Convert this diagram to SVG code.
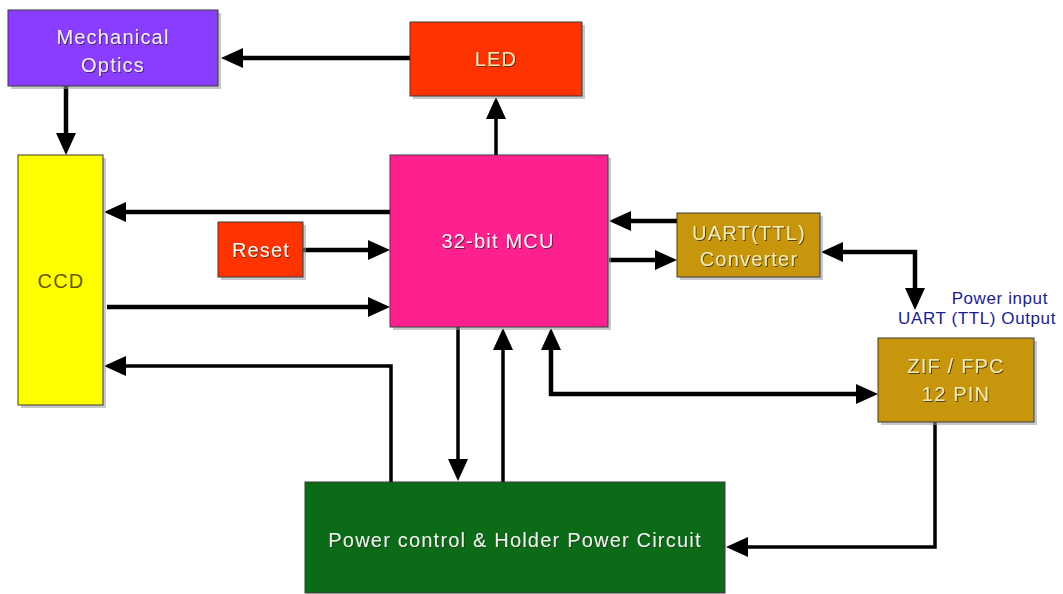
<svg xmlns="http://www.w3.org/2000/svg" width="1063" height="594" viewBox="0 0 1063 594">
<style>
.box{stroke:#3a3a3a;stroke-width:1}
.shadow{fill:#9a9a9a;opacity:0.55}
.lbl{font-family:"Liberation Sans",Arial,sans-serif;font-size:20px;letter-spacing:1.2px;text-anchor:middle;filter:url(#ts)}
.blue{font-family:"Liberation Sans",Arial,sans-serif;font-size:17px;fill:#1c1c8a;text-anchor:end;letter-spacing:0.6px}
.c{fill:none;stroke:#000;stroke-width:4.5}
.t{fill:none;stroke:#000;stroke-width:3.5}
</style>
<defs>
<marker id="ah" viewBox="0 0 22 20" markerWidth="22" markerHeight="20" markerUnits="userSpaceOnUse" refX="2" refY="10" orient="auto-start-reverse">
<path d="M0,0 L22,10 L0,20 z" fill="#000"/>
</marker>
<filter id="ts" x="-10%" y="-30%" width="120%" height="160%">
<feDropShadow dx="1" dy="1" stdDeviation="0.3" flood-color="#2a2a2a" flood-opacity="0.8"/>
</filter>
</defs>
<rect width="1063" height="594" fill="#ffffff"/>

<g id="connectors">
<path class="c" d="M410,58 H241" marker-end="url(#ah)"/>
<path class="c" d="M66,86 V135" marker-end="url(#ah)"/>
<path class="t" d="M496,155 V117" marker-end="url(#ah)"/>
<path class="c" d="M390,212 H124" marker-end="url(#ah)"/>
<path class="c" d="M303,250 H370" marker-end="url(#ah)"/>
<path class="c" d="M107,307 H370" marker-end="url(#ah)"/>
<path class="t" d="M391,482 V366 H124" marker-end="url(#ah)"/>
<path class="c" d="M677,221 H629" marker-end="url(#ah)"/>
<path class="c" d="M609,260 H657" marker-end="url(#ah)"/>
<path class="c" d="M841,252 H915 V290" marker-start="url(#ah)" marker-end="url(#ah)"/>
<path class="c" d="M551,348 V394 H858" marker-start="url(#ah)" marker-end="url(#ah)"/>
<path class="t" d="M458,327 V461" marker-end="url(#ah)"/>
<path class="t" d="M503,482 V348" marker-end="url(#ah)"/>
<path class="t" d="M935,422 V547 H746" marker-end="url(#ah)"/>
</g>

<g id="optics">
<rect class="shadow" x="11" y="13" width="210" height="76"/>
<rect class="box" x="8" y="10" width="210" height="76" fill="#8b3dff"/>
<text class="lbl" x="113" y="44" fill="#f2e6ff">Mechanical</text>
<text class="lbl" x="113" y="72" fill="#f2e6ff">Optics</text>
</g>

<g id="led">
<rect class="shadow" x="413" y="25" width="172" height="74"/>
<rect class="box" x="410" y="22" width="172" height="74" fill="#ff3300"/>
<text class="lbl" x="496" y="66" fill="#ffe6b0">LED</text>
</g>

<g id="ccd">
<rect class="shadow" x="21" y="158" width="85" height="250"/>
<rect class="box" x="18" y="155" width="85" height="250" fill="#ffff00" stroke="#b8a000"/>
<text x="61" y="288" font-family="Liberation Sans, Arial, sans-serif" font-size="20" letter-spacing="1.2" text-anchor="middle" fill="#6b5800">CCD</text>
</g>

<g id="reset">
<rect class="shadow" x="221" y="225" width="85" height="55"/>
<rect class="box" x="218" y="222" width="85" height="55" fill="#ff3300"/>
<text class="lbl" x="261" y="257" fill="#fff0e6">Reset</text>
</g>

<g id="mcu">
<rect class="shadow" x="393" y="158" width="218" height="172"/>
<rect class="box" x="390" y="155" width="218" height="172" fill="#ff2090"/>
<text class="lbl" x="498" y="248" fill="#ffe6f4">32-bit MCU</text>
</g>

<g id="uart">
<rect class="shadow" x="680" y="216" width="143" height="64"/>
<rect class="box" x="677" y="213" width="143" height="64" fill="#c8960c"/>
<text class="lbl" x="749" y="240" fill="#f6eaa8">UART(TTL)</text>
<text class="lbl" x="749" y="266" fill="#f6eaa8">Converter</text>
</g>

<g id="io-label">
<text class="blue" x="1048" y="304">Power input</text>
<text class="blue" x="1056" y="324">UART (TTL) Output</text>
</g>

<g id="zif">
<rect class="shadow" x="881" y="341" width="156" height="84"/>
<rect class="box" x="878" y="338" width="156" height="84" fill="#c8960c"/>
<text class="lbl" x="956" y="373" fill="#f6eaa8">ZIF / FPC</text>
<text class="lbl" x="956" y="401" fill="#f6eaa8">12 PIN</text>
</g>

<g id="power">
<rect class="box" x="305" y="482" width="420" height="111" fill="#0b6b16"/>
<text class="lbl" x="515" y="547" fill="#e6f6e6" letter-spacing="1.5">Power control &amp; Holder Power Circuit</text>
</g>
</svg>
